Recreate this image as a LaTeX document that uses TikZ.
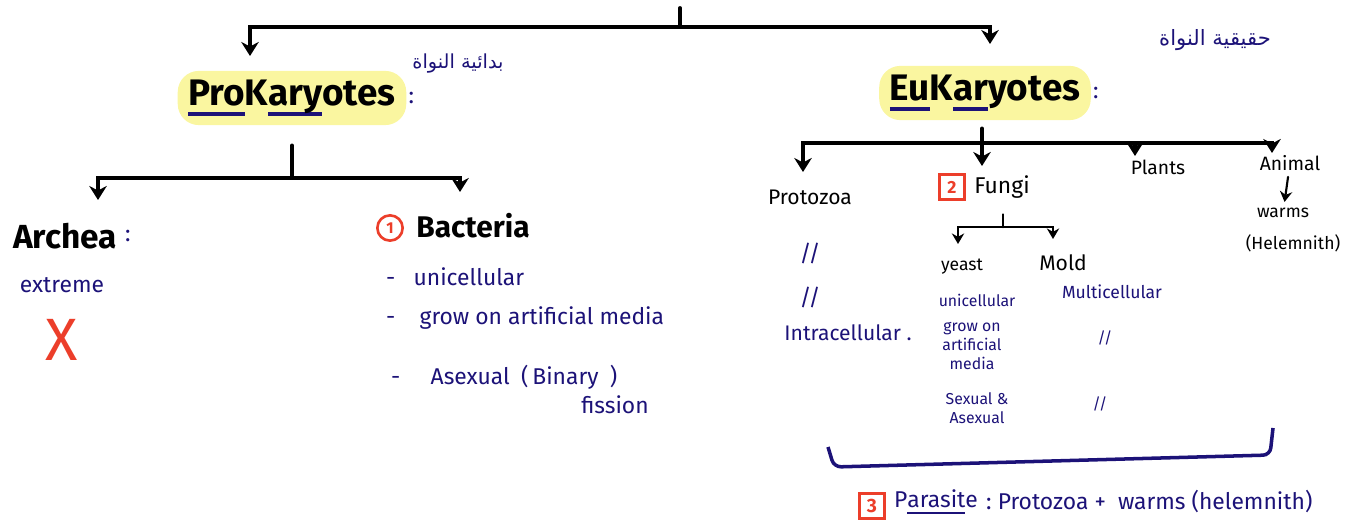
\documentclass[tikz,border=0pt]{standalone}
\usepackage{fontspec}
\setmainfont{Fira Sans}
\newfontfamily\arabicfont[Script=Arabic]{DejaVu Sans}
\TeXXeTstate=1
\usetikzlibrary{arrows.meta,calc}
\definecolor{ink}{RGB}{28,18,120}
\definecolor{mark}{RGB}{236,62,42}
\definecolor{hilite}{RGB}{250,246,160}
\newcommand\inkline[1]{\setbox0\hbox{#1}\rlap{\color{ink}\rule[-0.3em]{\wd0}{0.12em}}\box0}
\newcommand\fs[1]{\fontsize{#1}{1.2\dimexpr#1pt\relax}\selectfont}

\tikzset{
    branch/.style={line width=2.2pt, line cap=round},
    arr/.style={branch, -{Stealth[length=8pt,width=10pt]}},
    twig/.style={line width=1.5pt, line cap=round, -{Stealth[length=6pt,width=7pt]}},
    hl/.style={fill=hilite, rounded corners=12pt, inner xsep=6pt, inner ysep=5pt, font=\bfseries\fs{21}},
    head/.style={font=\bfseries\fs{19}},
    sub/.style={font=\fs{12}},
    note/.style={text=ink, font=\fs{13}},
    small/.style={text=ink, font=\fs{9}},
    redbox/.style={draw=mark, line width=1.5pt, text=mark, font=\bfseries\fs{10}, inner sep=2pt, minimum size=14pt}
}

\begin{document}
\begin{tikzpicture}[x=0.02cm, y=-0.02cm]
    \useasboundingbox (0,0) rectangle (1356,526);
    % top level
    \node[hl] (prok) at (292,98) {\inkline{Pro}K\inkline{ary}otes};
    \node[note, right, inner sep=1pt] (prokcol) at (prok.east) {:};
    \node[note, font=\arabicfont\fs{11}] (prokar) at (458,64) {\beginR بدائية النواة\endR};
    \node[hl] (euk) at (985,93) {\inkline{Eu}K\inkline{ar}yotes};
    \node[note, right, inner sep=1pt] (eukcol) at (euk.east) {:};
    \node[note, font=\arabicfont\fs{12}] (eukar) at (1215,40) {\beginR حقيقية النواة\endR};

    \coordinate (root) at (680,8);
    \coordinate (rootj) at (680,27);
    \coordinate (prokin) at (250,56);
    \coordinate (eukin) at (990,44);
    \draw[branch] (root) -- (rootj);
    \draw[arr] (rootj) -| (prokin);
    \draw[arr] (rootj) -| (eukin);

    % prokaryotes
    \coordinate (pj) at (292,178);
    \coordinate (archin) at (98,200);
    \coordinate (bactin) at (460,192);
    \draw[branch] (prok.south) ++(0,20) -- (pj);
    \draw[arr] (pj) -| (archin);
    \draw[arr] (pj) -| (bactin);

    \node[head] (archea) at (65,236) {Archea};
    \node[note, right, inner sep=1pt] (archcol) at (archea.east) {:};
    \node[note] (extreme) at (62,285) {extreme};
    \node[text=mark, font=\fs{34}] (cross) at (62,340) {X};

    \node[circle, draw=mark, line width=1.5pt, text=mark, inner sep=2.5pt, font=\bfseries\fs{9}] (one) at (390,228) {1};
    \node[head, font=\bfseries\fs{17}] (bact) at (473,226) {Bacteria};
    \node[note, right] (b1) at (380,277) {-~~~unicellular};
    \node[note, right] (b2) at (380,318) {-~~~~grow on artificial media};
    \node[note, right] (b3) at (385,377) {-~~~~~Asexual\enspace(\,Binary\enspace)};
    \node[note] (b3b) at (615,405) {fission};

    % eukaryotes
    \coordinate (ej) at (982,143);
    \coordinate (protoin) at (803,172);
    \coordinate (fungiin) at (982,166);
    \coordinate (plantsin) at (1135,156);
    \coordinate (animin) at (1272,153);
    \draw[branch] (euk.south -| ej) ++(0,8) -- (ej);
    \draw[arr] (ej) -| (protoin);
    \draw[arr] (ej) -- (fungiin);
    \draw[arr] (ej) -| (plantsin);
    \draw[arr] (ej) -| (animin);

    \node[sub] (proto) at (810,197) {Protozoa};
    \node[note] (pr1) at (810,253) {//};
    \node[note] (pr2) at (810,297) {//};
    \node[note, font=\fs{12}] (intra) at (848,333) {Intracellular .};

    \node[redbox] (two) at (952,187) {2};
    \node[sub, font=\fs{13}] (fungi) at (1002,187) {Fungi};
    \coordinate (fj) at (1003,227);
    \coordinate (yeastin) at (958,244);
    \coordinate (moldin) at (1053,239);
    \draw[branch, line width=1.5pt] (fungi.south -| fj) ++(0,10) -- (fj);
    \draw[twig] (fj) -| (yeastin);
    \draw[twig] (fj) -| (moldin);
    \node[sub, font=\fs{10}] (yeast) at (962,267) {yeast};
    \node[sub] (mold) at (1063,263) {Mold};
    \node[small] (y1) at (977,300) {unicellular};
    \node[small, align=center] (y2) at (972,346) {grow on\\artificial\\media};
    \node[small, align=center] (y3) at (977,408) {Sexual \&\\Asexual};
    \node[small, font=\fs{10}] (m1) at (1112,292) {Multicellular};
    \node[small] (m2) at (1105,338) {//};
    \node[small] (m3) at (1100,404) {//};

    \node[sub, font=\fs{11}] (plants) at (1158,167) {Plants};
    \node[sub, font=\fs{11}] (animal) at (1290,163) {Animal};
    \node[sub, font=\fs{10}] (warms) at (1283,213) {warms};
    \node[sub, font=\fs{10}] (helm) at (1293,243) {(Helemnith)};
    \draw[twig, line width=1.2pt] (animal) -- (warms);

    % parasites
    \draw[ink, line width=2pt, rounded corners=4pt] (828,447) -- (834,467) -- (1270,455) -- (1273,428);
    \node[redbox, font=\bfseries\fs{11}] (three) at (872,506) {3};
    \node[note, right] (para) at (888,502) {P\inkline{arasit}e};
    \node[note, right, inner sep=1pt] (paradef) at (para.east) {:~Protozoa~+~~warms (helemnith)};
\end{tikzpicture}
\end{document}
